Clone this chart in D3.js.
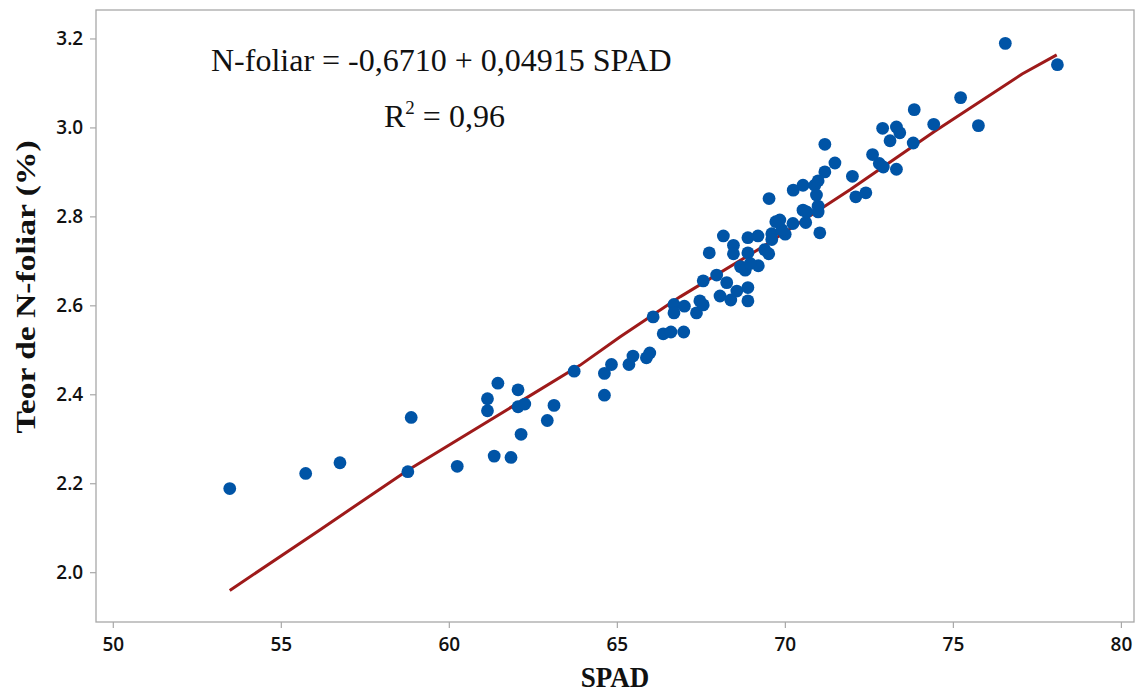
<!DOCTYPE html>
<html>
<head>
<meta charset="utf-8">
<script src="https://cdn.jsdelivr.net/npm/d3@7"></script>
<style>
  html, body { margin: 0; padding: 0; background: #fff; }
  svg { display: block; }
</style>
</head>
<body>
<svg id="chart" width="1138" height="695"></svg>
<script>
// ---- data ----
const spad = [53.48,55.74,56.76,58.88,58.78,60.25,61.46,61.15,61.15,62.06,62.06,62.26,62.15,61.35,61.85,63.13,62.93,63.73,64.63,64.84,64.63,65.36,65.48,65.88,65.98,66.08,66.38,66.61,66.99,66.70,66.70,67.01,67.37,67.47,67.57,67.57,67.97,68.27,68.07,68.39,68.57,68.90,68.90,67.75,68.17,68.47,68.47,68.90,69.20,68.90,68.68,68.82,69.21,68.97,69.40,69.52,69.61,69.61,70.01,69.91,69.73,69.85,70.24,70.62,71.04,69.53,70.54,70.65,70.25,70.54,70.89,70.99,70.94,70.99,70.99,71.19,71.19,71.49,72.01,72.11,72.41,72.61,72.81,72.93,73.32,72.91,73.32,73.42,73.13,73.82,73.85,74.43,75.23,75.76,76.56,78.11];
const nFoliar = [2.188,2.222,2.246,2.348,2.226,2.238,2.425,2.390,2.363,2.410,2.372,2.378,2.310,2.261,2.258,2.375,2.341,2.452,2.447,2.467,2.398,2.467,2.486,2.482,2.493,2.574,2.536,2.540,2.540,2.602,2.583,2.598,2.583,2.610,2.601,2.655,2.668,2.651,2.621,2.612,2.632,2.640,2.610,2.718,2.756,2.735,2.716,2.752,2.756,2.718,2.687,2.679,2.689,2.694,2.725,2.716,2.761,2.748,2.760,2.770,2.788,2.792,2.784,2.786,2.763,2.840,2.814,2.810,2.859,2.870,2.870,2.880,2.848,2.823,2.810,2.900,2.962,2.920,2.890,2.844,2.853,2.939,2.919,2.911,2.906,2.998,3.001,2.988,2.970,2.965,3.040,3.007,3.067,3.004,3.189,3.141];
const fitSpad = [53.48,56.16,58.79,63.90,65.09,66.88,69.33,71.96,74.45,77.06,78.09];
const fitN    = [1.959,2.095,2.230,2.465,2.529,2.619,2.731,2.861,2.991,3.120,3.163];
const xTicks = [50,55,60,65,70,75,80];
const yTicks = [2.0,2.2,2.4,2.6,2.8,3.0,3.2];
const equationText = "N-foliar = -0,6710 + 0,04915 SPAD";
const r2Label = "R";
const r2Value = " = 0,96";
const xTitle = "SPAD";
const yTitle = "Teor de N-foliar (%)";

// ---- layout ----
const svg = d3.select("#chart");
const L = 96, T = 10, R = 1134, B = 622;
const x = d3.scaleLinear().domain([49.5, 80.39]).range([L, R]);
const y = d3.scaleLinear().domain([1.888, 3.264]).range([B, T]);
const frameColor = "#a8a8a8";
const serif = "'Liberation Serif', 'Times New Roman', serif";

// frame
svg.append("rect")
  .attr("x", L).attr("y", T).attr("width", R - L).attr("height", B - T)
  .attr("fill", "none").attr("stroke", frameColor).attr("stroke-width", 1.3);

// axes
const xAxis = svg.append("g").attr("transform", `translate(0,${B})`)
  .call(d3.axisBottom(x).tickValues(xTicks).tickSize(6).tickSizeOuter(0).tickFormat(d3.format("d")));
const yAxis = svg.append("g").attr("transform", `translate(${L},0)`)
  .call(d3.axisLeft(y).tickValues(yTicks).tickSize(6).tickSizeOuter(0).tickFormat(d3.format(".1f")));
[xAxis, yAxis].forEach(g => {
  g.select(".domain").remove();
  g.selectAll(".tick line").attr("stroke", frameColor).attr("stroke-width", 1.2);
  g.selectAll(".tick text")
    .attr("fill", "#111")
    .style("font-family", "'Open Sans', 'Noto Sans', sans-serif")
    .style("font-weight", "600")
    .style("font-size", "19px");
});
xAxis.selectAll(".tick text").attr("dy", "1.05em");
yAxis.selectAll(".tick text").attr("dx", "-0.2em");

// axis titles
svg.append("text")
  .attr("transform", `translate(${(L + R) / 2},687) scale(1,1.08)`)
  .attr("text-anchor", "middle")
  .style("font-family", serif)
  .style("font-weight", "bold").style("font-size", "27px")
  .attr("fill", "#111")
  .text(xTitle);
svg.append("text")
  .attr("transform", `translate(35,287) rotate(-90) scale(1.2,1)`)
  .attr("text-anchor", "middle")
  .style("font-family", serif)
  .style("font-weight", "bold").style("font-size", "28px")
  .attr("fill", "#111")
  .text(yTitle);

// fitted line
const fit = fitSpad.map((s, i) => [s, fitN[i]]);
svg.append("path")
  .datum(fit)
  .attr("fill", "none")
  .attr("stroke", "#9e1a1a")
  .attr("stroke-width", 3)
  .attr("d", d3.line().x(d => x(d[0])).y(d => y(d[1])));

// points
const pts = spad.map((s, i) => [s, nFoliar[i]]);
svg.append("g").selectAll("circle")
  .data(pts).join("circle")
  .attr("cx", d => x(d[0])).attr("cy", d => y(d[1]))
  .attr("r", 6.4)
  .attr("fill", "#0054a6");

// equation annotation
svg.append("text")
  .attr("x", 211).attr("y", 71)
  .style("font-family", serif).style("font-size", "32px")
  .attr("fill", "#111")
  .text(equationText);
const r2 = svg.append("text")
  .attr("x", 384).attr("y", 127)
  .style("font-family", serif).style("font-size", "32px")
  .attr("fill", "#111");
r2.append("tspan").text(r2Label);
r2.append("tspan").attr("dy", -13).style("font-size", "19px").text("2");
r2.append("tspan").attr("dy", 13).text(r2Value);
</script>
</body>
</html>
